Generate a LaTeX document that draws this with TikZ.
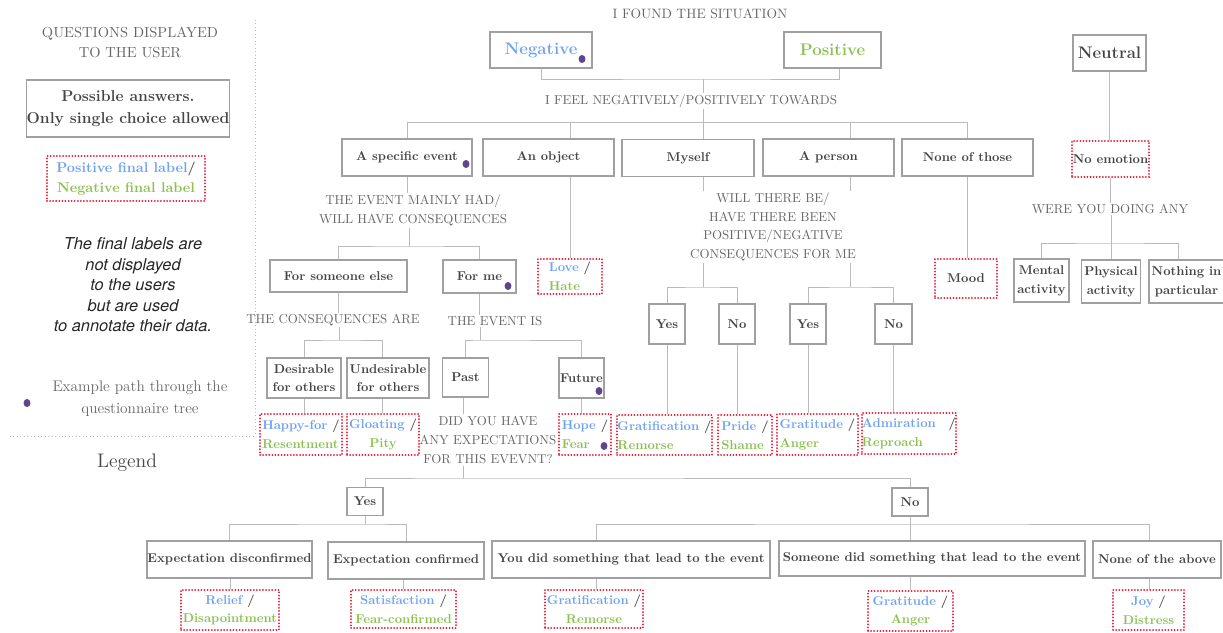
\documentclass[tikz,border=0pt]{standalone}
\usepackage{fontspec}
\newfontfamily\helvfont{TeX Gyre Heros}
\usetikzlibrary{calc}
\definecolor{lnc}{HTML}{BBBBBB}
\definecolor{bxc}{HTML}{A0A0A0}
\definecolor{txb}{HTML}{454545}
\definecolor{txq}{HTML}{666666}
\definecolor{cblue}{HTML}{6FA3F2}
\definecolor{cgreen}{HTML}{8CC152}
\definecolor{cred}{HTML}{EA1230}
\definecolor{cpur}{HTML}{5C4591}
\newcommand\myq{\fontsize{9.7}{14}\selectfont}
\newcommand\myb{\bfseries\fontsize{9.6}{14}\selectfont}
\newcommand\mybig{\bfseries\fontsize{12.6}{14}\selectfont}
\newcommand\bl[1]{{\color{cblue}#1}}
\newcommand\gr[1]{{\color{cgreen}#1}}
\tikzset{
  sz/.style 2 args={minimum width=#1*0.75pt,minimum height=#2*0.75pt},
  ln/.style={draw=lnc,line width=0.75pt},
  abox/.style={draw=bxc,line width=0.8pt,inner sep=0pt,font=\myb,text=txb,align=center},
  rbox/.style={draw=cred,line width=1.5pt,line cap=round,dash pattern=on 0.01pt off 2.3pt,inner sep=0pt,font=\myb,text=txb,align=left},
  rboxc/.style={rbox,align=center},
  qtxt/.style={font=\myq,text=txq,align=center,inner sep=1pt},
  pdot/.style={fill=cpur}}
\begin{document}
\begin{tikzpicture}[x=0.75pt,y=-0.75pt]
\useasboundingbox (0,0) rectangle (1223,632);
% ---------------- legend
\node[qtxt,font=\fontsize{10.9}{15}\selectfont] (lq) at (130,42) {QUESTIONS DISPLAYED\\TO THE USER};
\node[abox,sz={200}{57},font=\bfseries\fontsize{11.8}{16.5}\selectfont] (lb) at (128,108.5) {Possible answers.\\Only single choice allowed};
\node[rboxc,sz={158}{45},font=\bfseries\fontsize{10.6}{15}\selectfont] (lr) at (126,178.5) {\bl{Positive final label}/\\\gr{Negative final label}};
\node[font=\helvfont\itshape\fontsize{12.3}{15.4}\selectfont,align=center,text=black!85] (li) at (133,285) {The final labels are\\not displayed\\to the users\\but are used\\to annotate their data.};
\fill[pdot] (27,403) ellipse [x radius=2.6pt,y radius=3pt];
\node[qtxt,font=\fontsize{11.5}{16.5}\selectfont] (le) at (140,399) {Example path through the\\questionnaire tree};
\draw[lnc,dotted,line width=0.6pt] (10,436) -- (255,436);
\draw[lnc,dotted,line width=0.6pt] (255,20) -- (255,436);
\node[font=\fontsize{14.7}{16}\selectfont,text=txb] (lg) at (127,463) {Legend};
% ---------------- top
\node[qtxt,font=\fontsize{10.2}{14}\selectfont] (q0) at (700,14) {I FOUND THE SITUATION};
\node[abox,sz={102}{36},font=\mybig,text=cblue] (neg) at (541,50) {Negative};
\fill[pdot] (582,59) ellipse [x radius=2.6pt,y radius=3pt];
\node[abox,sz={97}{36},font=\mybig,text=cgreen] (pos) at (832.5,50) {Positive};
\node[abox,sz={73}{36},font=\mybig] (neu) at (1109.5,53) {Neutral};
\coordinate (j0) at (703,79);
\coordinate (x0r) at (839,0);
\draw[ln] (neg.south) |- (j0) -| (pos.south -| x0r);
\node[qtxt] (q1) at (691,101) {I FEEL NEGATIVELY/POSITIVELY TOWARDS};
\draw[ln] (j0) -- (j0 |- q1.north);
\coordinate (j1) at (703,122);
\draw[ln] (j1 |- q1.south) -- (j1);
% ---------------- row 2
\node[abox,sz={130}{37}] (ev) at (407,157.5) {A specific event};
\fill[pdot] (466,164) ellipse [x radius=2.6pt,y radius=3pt];
\node[abox,sz={131}{37}] (obj) at (548.5,157.5) {An object};
\node[abox,sz={132}{37}] (my) at (688,158) {Myself};
\node[abox,sz={131}{37}] (per) at (828.5,157.5) {A person};
\node[abox,sz={131}{37}] (none) at (967.5,157.5) {None of those};
\node[rboxc,sz={77}{36}] (noemo) at (1110.5,159) {No emotion};
\node[rbox,sz={64}{35}] (lh) at (570,276.5) {\bl{Love} /\\\gr{Hate}};
\node[rboxc,sz={62}{39}] (mood) at (966,278.5) {Mood};
\coordinate (j6a) at (703,287);
\coordinate (j6b) at (850,287);
\draw[ln] (j1) -| (ev.north);
\draw[ln] (j1) -| (obj.north -| lh.north);
\draw[ln] (j1) -- (my.north -| j1);
\draw[ln] (j1) -| (per.north -| j6b);
\draw[ln] (j1) -| (none.north);
\draw[ln] (obj.south -| lh.north) -- (lh.north);
\draw[ln] (none.south) -- (mood.north -| none.south);
% ---------------- event branch
\node[qtxt,font=\fontsize{9.7}{14.3}\selectfont] (q2) at (413,210.5) {THE EVENT MAINLY HAD/\\WILL HAVE CONSEQUENCES};
\draw[ln] (ev.south) -- (q2.north -| ev.south);
\coordinate (j2) at (409,246);
\draw[ln] (q2.south -| j2) -- (j2);
\node[abox,sz={137}{32}] (fse) at (338.5,276) {For someone else};
\node[abox,sz={73}{33}] (fme) at (479.5,276.5) {For me};
\fill[pdot] (508,286) ellipse [x radius=2.6pt,y radius=3pt];
\draw[ln] (fse.north) |- (j2) -| (fme.north);
\node[qtxt] (q3) at (333,320) {THE CONSEQUENCES ARE};
\draw[ln] (fse.south) -- (q3.north -| fse.south);
\coordinate (j3) at (339,340);
\coordinate (x3r) at (382,0);
\draw[ln] (q3.south -| j3) -- (j3);
\node[abox,sz={74}{40}] (des) at (304,378) {Desirable\\for others};
\node[abox,sz={82}{40}] (und) at (388,378) {Undesirable\\for others};
\draw[ln] (des.north) |- (j3) -| (und.north -| x3r);
\node[rbox,sz={82}{41}] (hap) at (301,434.5) {\bl{Happy-for} /\\\gr{Resentment}};
\node[rboxc,sz={72}{41}] (glo) at (383,434.5) {\bl{Gloating} /\\\gr{Pity}};
\draw[ln] (des.south) -- (hap.north -| des.south);
\draw[ln] (und.south -| x3r) -- (glo.north -| x3r);
\node[qtxt] (q4) at (495,321) {THE EVENT IS};
\draw[ln] (fme.south) -- (q4.north -| fme.south);
\coordinate (j4) at (480,340);
\draw[ln] (q4.south -| j4) -- (j4);
\node[abox,sz={46}{39}] (past) at (465.5,377.5) {Past};
\node[abox,sz={45}{40}] (fut) at (581.5,378) {Future};
\fill[pdot] (599,391) ellipse [x radius=2.6pt,y radius=3pt];
\draw[ln] (past.north) |- (j4) -| (fut.north);
\node[rbox,sz={52}{41}] (hope) at (585,434.5) {\bl{Hope} /\\\gr{Fear}};
\fill[pdot] (604,446) ellipse [x radius=2.6pt,y radius=3pt];
\draw[ln] (fut.south) -- (hope.north -| fut.south);
\node[qtxt,font=\fontsize{9.7}{14.6}\selectfont] (q5) at (488,440) {DID YOU HAVE\\ANY EXPECTATIONS\\FOR THIS EVEVNT?};
\coordinate (j5) at (463,478);
\draw[ln] (past.south -| j5) -- (q5.north -| j5);
\draw[ln] (q5.south -| j5) -- (j5);
% ---------------- myself / person branch
\node[qtxt,font=\fontsize{9.7}{14}\selectfont] (q6) at (773,227) {WILL THERE BE/\\HAVE THERE BEEN\\POSITIVE/NEGATIVE\\CONSEQUENCES FOR ME};
\draw[ln] (my.south -| j6a) -- (q6.north -| j6a);
\draw[ln] (per.south -| j6b) -- (q6.north -| j6b);
\draw[ln] (q6.south -| j6a) -- (j6a);
\draw[ln] (q6.south -| j6b) -- (j6b);
\node[abox,sz={36}{40}] (y1) at (667,324) {Yes};
\node[abox,sz={36}{40}] (n1) at (737,324) {No};
\node[abox,sz={36}{40}] (y2) at (808,324) {Yes};
\node[abox,sz={37}{40}] (n2) at (893.5,324) {No};
\draw[ln] (y1.north) |- (j6a) -| (n1.north);
\draw[ln] (y2.north) |- (j6b) -| (n2.north);
\node[rbox,sz={95}{40}] (grat) at (664.5,435) {\bl{Gratification} /\\\gr{Remorse}};
\node[rbox,sz={54}{40}] (pride) at (745,435) {\bl{Pride} /\\\gr{Shame}};
\node[rbox,sz={81}{41}] (gratit) at (817.5,434.5) {\bl{Gratitude} /\\\gr{Anger}};
\node[rbox,sz={92}{41}] (adm) at (909,433.5) {\bl{Admiration}\hspace{6pt} /\\\gr{Reproach}};
\draw[ln] (y1.south) -- (grat.north -| y1.south);
\draw[ln] (n1.south) -- (pride.north -| n1.south);
\draw[ln] (y2.south) -- (gratit.north -| y2.south);
\draw[ln] (n2.south) -- (adm.north -| n2.south);
% ---------------- neutral branch
\draw[ln] (neu.south) -- (neu.south |- noemo.north);
\node[qtxt] (q7) at (1110,209) {WERE YOU DOING ANY};
\draw[ln] (noemo.south) -- (q7.north -| noemo.south);
\coordinate (j7) at (1111,243);
\coordinate (x7r) at (1178,0);
\draw[ln] (q7.south -| j7) -- (j7);
\node[abox,sz={55}{43}] (ment) at (1041.5,280.5) {Mental\\activity};
\node[abox,sz={59}{43}] (phys) at (1111,281.5) {Physical\\activity};
\node[abox,sz={75}{43}] (noth) at (1186.5,281.5) {Nothing in\\particular};
\draw[ln] (ment.north) |- (j7) -| (noth.north -| x7r);
\draw[ln] (j7) -- (phys.north -| j7);
% ---------------- bottom
\node[abox,sz={36}{28}] (yes3) at (365,501.5) {Yes};
\node[abox,sz={36}{28}] (no3) at (910,502) {No};
\draw[ln] (yes3.north) |- (j5) -| (no3.north);
\coordinate (j8) at (365,524);
\coordinate (j9) at (910,524);
\coordinate (x9l) at (596,0);
\coordinate (x9r) at (1149,0);
\node[abox,sz={165}{37}] (expd) at (229.5,559.5) {Expectation disconfirmed};
\node[abox,sz={156}{37}] (expc) at (406,560.5) {Expectation confirmed};
\node[abox,sz={278}{37}] (youdid) at (631,559.5) {You did something that lead to the event};
\node[abox,sz={306}{35}] (somdid) at (932,558.5) {Someone did something that lead to the event};
\node[abox,sz={128}{37}] (nota) at (1157,559.5) {None of the above};
\draw[ln] (yes3.south) -- (j8);
\draw[ln] (expd.north) |- (j8) -| (expc.north);
\draw[ln] (no3.south) -- (somdid.north -| no3.south);
\draw[ln] (youdid.north -| x9l) |- (j9) -| (nota.north -| x9r);
\node[rboxc,sz={98}{40}] (rel) at (230,610) {\bl{Relief} /\\\gr{Disapointment}};
\node[rboxc,sz={105}{38}] (sat) at (403.5,609) {\bl{Satisfaction} /\\\gr{Fear-confirmed}};
\node[rboxc,sz={98}{38}] (grat2) at (594,609) {\bl{Gratification} /\\\gr{Remorse}};
\node[rboxc,sz={85}{40}] (gratit2) at (910.5,611) {\bl{Gratitude} /\\\gr{Anger}};
\node[rboxc,sz={71}{40}] (joy) at (1148.5,610) {\bl{Joy} /\\\gr{Distress}};
\draw[ln] (expd.south -| rel.north) -- (rel.north);
\draw[ln] (expc.south -| sat.north) -- (sat.north);
\draw[ln] (youdid.south -| x9l) -- (grat2.north -| x9l);
\draw[ln] (somdid.south -| no3.south) -- (gratit2.north -| no3.south);
\draw[ln] (nota.south -| x9r) -- (joy.north -| x9r);
\end{tikzpicture}
\end{document}
